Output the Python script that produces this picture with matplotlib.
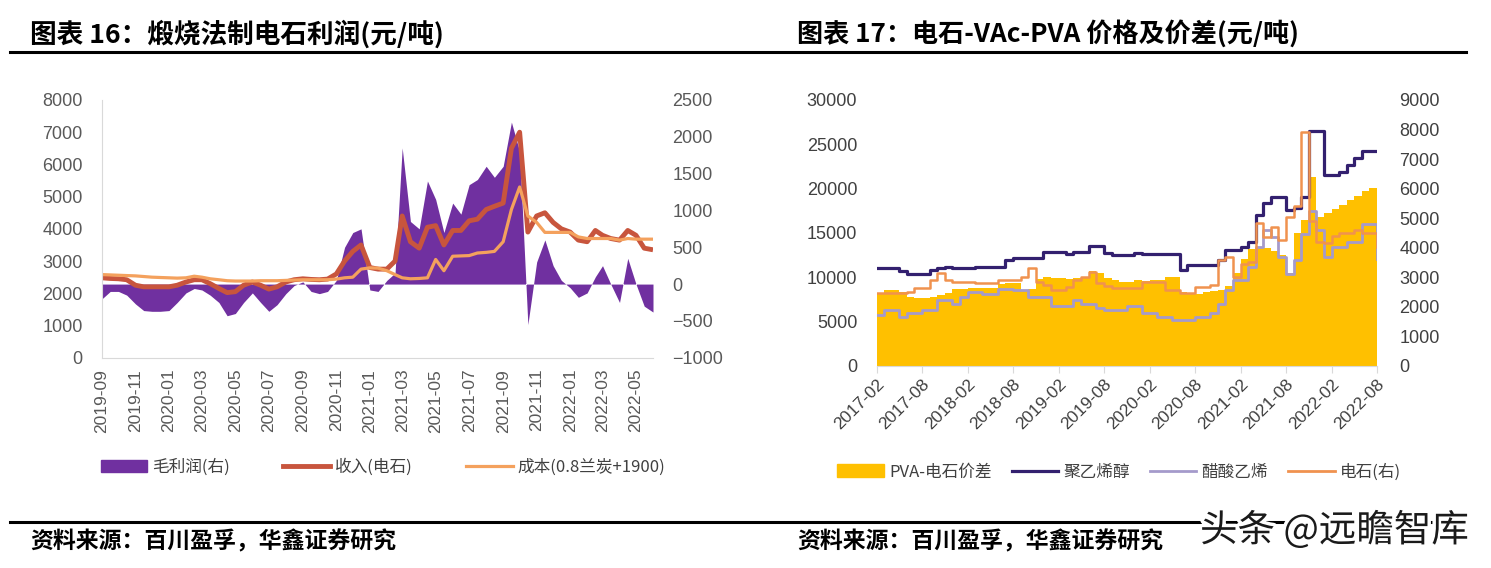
import matplotlib
matplotlib.use('agg')

import matplotlib.pyplot as plt
import matplotlib.dates as mdates
import matplotlib.patheffects as pe
from matplotlib.lines import Line2D
from matplotlib.patches import Patch
import pandas as pd

plt.rcParams['font.family'] = ['Liberation Sans', 'Noto Sans CJK SC', 'DejaVu Sans']
CJK = ['Noto Sans CJK SC', 'DejaVu Sans']

# ---- chart 16: calcination carbide profit, semi-monthly 2019-09 .. 2022-06
calc_months = pd.date_range('2019-09-01', '2022-06-01', freq='MS')
calc_dates = []
for m in calc_months:
    calc_dates.append(m)
    if m < calc_months[-1]:
        calc_dates.append(m + pd.Timedelta(days=15))

profit = [-200, -100, -100, -150, -270, -360, -370, -370, -360, -250,
          -120, -60, -80, -150, -250, -430, -400, -250, -120, -250,
          -370, -280, -130, -20, 30, -100, -130, -100, 50, 500,
          700, 750, -80, -100, 50, 150, 1850, 850, 750, 1400,
          1150, 700, 1100, 950, 1350, 1420, 1600, 1450, 1600, 2200,
          1800, -550, 300, 600, 250, 50, -50, -180, -120, 100,
          250, 0, -250, 350, 0, -300, -380]

income = [2480, 2460, 2450, 2420, 2250, 2200, 2200, 2200, 2200, 2250,
          2350, 2420, 2420, 2300, 2150, 2020, 2050, 2250, 2350, 2250,
          2130, 2200, 2350, 2420, 2450, 2430, 2420, 2440, 2600, 3000,
          3300, 3500, 2800, 2750, 2750, 3000, 4400, 3600, 3400, 4050,
          4100, 3500, 3950, 3950, 4250, 4300, 4600, 4700, 4800, 6500,
          7000, 3900, 4400, 4500, 4200, 4000, 3900, 3650, 3600, 3950,
          3800, 3700, 3650, 3950, 3800, 3400, 3350]

cost = [2580, 2570, 2560, 2550, 2540, 2520, 2500, 2490, 2480, 2470,
        2480, 2530, 2500, 2450, 2420, 2390, 2380, 2380, 2380, 2390,
        2390, 2390, 2400, 2410, 2420, 2420, 2420, 2420, 2440, 2480,
        2500, 2750, 2790, 2780, 2700, 2580, 2480, 2450, 2460, 2480,
        3050, 2700, 3150, 3160, 3170, 3250, 3270, 3300, 3600, 4600,
        5300, 4400, 4200, 3890, 3890, 3890, 3890, 3750, 3700, 3700,
        3700, 3700, 3650, 3700, 3680, 3680, 3680]

# ---- chart 17: carbide - VAc - PVA, monthly 2017-02 .. 2022-08
chain_dates = pd.date_range('2017-02-01', '2022-08-01', freq='MS')

spread = [8200, 8500, 8500, 8300, 7800, 7700, 7700, 7800, 8000, 8200,
          8700, 8700, 8800, 8800, 8800, 8800, 9200, 9300, 9300, 8600,
          8700, 9800, 10000, 9900, 9900, 9800, 9900, 9900, 10700, 10500,
          9900, 9700, 9500, 9500, 9700, 9600, 9700, 9700, 10000, 10000,
          8300, 8200, 8100, 8300, 8400, 8500, 9000, 10500, 12000, 13200,
          13300, 13300, 13000, 12500, 10500, 15000, 16500, 21300, 16800, 17200,
          17700, 18200, 18700, 19200, 19700, 20100, 20300]

pva = [11000, 11000, 11000, 10700, 10400, 10400, 10400, 10800, 11000, 11200,
       11000, 11000, 11000, 11200, 11200, 11200, 11200, 11950, 12130, 12130,
       12130, 12130, 12880, 12880, 12880, 12600, 12880, 12880, 13500, 13500,
       12700, 12500, 12500, 12500, 12750, 12600, 12600, 12600, 12600, 12600,
       10800, 11370, 11370, 11370, 11370, 11950, 13060, 13060, 13440, 14000,
       17000, 18330, 19080, 19080, 17580, 17770, 19080, 26530, 26530, 21520,
       21520, 21900, 22650, 23400, 24230, 24230, 24230]

vac = [5700, 6300, 6300, 5500, 5900, 5900, 6300, 6300, 7400, 7400,
       7000, 7800, 8350, 8350, 8150, 8150, 8700, 8700, 8550, 8550,
       7800, 7800, 7800, 6700, 6700, 6700, 7400, 7000, 7000, 6500,
       6300, 6300, 6300, 6700, 6700, 5900, 5900, 5500, 5500, 5150,
       5150, 5150, 5500, 5500, 5900, 7000, 8550, 9700, 9700, 11200,
       13400, 15300, 14500, 12300, 10400, 11900, 14900, 17500, 15300, 12300,
       13400, 13400, 14000, 14000, 16000, 16000, 12000]

carbide = [2450, 2450, 2450, 2450, 2500, 2620, 2620, 2900, 3130, 2900,
           2850, 2850, 2850, 2800, 2790, 2790, 2900, 2900, 2900, 3000,
           3300, 2850, 2730, 2560, 2560, 2650, 2900, 3000, 3190, 2790,
           2700, 2620, 2620, 2620, 2620, 2840, 2840, 2840, 2560, 2560,
           2450, 2450, 2680, 2680, 2730, 3580, 3690, 3010, 3460, 3520,
           4820, 4370, 4710, 4260, 5050, 5400, 7900, 4900, 4200, 4150,
           4400, 4500, 4500, 4600, 4500, 4500, 4030]

W, H = 1491, 568
fig = plt.figure(figsize=(W / 100, H / 100), dpi=100)
tick_color = '#595959'
axis_gray = '#D9D9D9'

def fx(px):
    return px / W

def fy(py):
    return 1 - py / H

# ---------------- chart 16 ----------------
ax = fig.add_axes([fx(102), fy(357.7), fx(653 - 102), (357.7 - 100) / H])
ax2 = ax.twinx()
ax.set_zorder(ax2.get_zorder() + 1)
ax.patch.set_visible(False)

ax2.fill_between(calc_dates, 0, profit, color='#7030A0', lw=0)
ax.plot(calc_dates, income, color='#C8553D', lw=3.5, solid_capstyle='butt')
ax.plot(calc_dates, cost, color='#F4A15D', lw=2.3)

ax.set_ylim(0, 8000)
ax.set_yticks(range(0, 8001, 1000))
ax2.set_ylim(-1000, 2500)
ax2.set_yticks(range(-1000, 2501, 500))
ax.set_xlim(calc_dates[0], calc_dates[-1])
ax.xaxis.set_major_locator(mdates.MonthLocator(bymonth=[1, 3, 5, 7, 9, 11]))
ax.xaxis.set_major_formatter(mdates.DateFormatter('%Y-%m'))
ax.tick_params(axis='x', length=0, pad=8, labelsize=12.5, labelcolor=tick_color, rotation=90)
ax.tick_params(axis='y', length=0, pad=14, labelsize=13, labelcolor=tick_color)
ax2.tick_params(axis='y', length=0, pad=14, labelsize=13, labelcolor=tick_color)
for a in (ax, ax2):
    for s in ('top', 'right'):
        a.spines[s].set_visible(False)
    a.spines['left'].set_visible(False)
ax.spines['left'].set_visible(True)
ax.spines['left'].set_color(axis_gray)
ax.spines['bottom'].set_color(axis_gray)
ax2.spines['bottom'].set_visible(False)

h16 = [Patch(color='#7030A0'),
       Line2D([], [], color='#C8553D', lw=3.5),
       Line2D([], [], color='#F4A15D', lw=2.3)]
fig.legend(h16, ['毛利润(右)', '收入(电石)', '成本(0.8兰炭+1900)'],
           loc='center', bbox_to_anchor=(fx(383), fy(467)), ncol=3, frameon=False,
           handlelength=2.8, handleheight=0.8, columnspacing=3.2, handletextpad=0.3,
           prop={'family': CJK, 'size': 12}, labelcolor='#404040')

# ---------------- chart 17 ----------------
bx = fig.add_axes([fx(876.7), fy(365.7), fx(1377 - 876.7), (365.7 - 100) / H])
bx2 = bx.twinx()

bx.fill_between(chain_dates, 0, spread, step='post', color='#FFC000', lw=0)
bx.plot(chain_dates, pva, drawstyle='steps-post', color='#33206F', lw=2.3)
bx.plot(chain_dates, vac, drawstyle='steps-post', color='#A59ACB', lw=2.0)
bx2.plot(chain_dates, carbide, drawstyle='steps-post', color='#F0924F', lw=1.8)

bx.set_ylim(0, 30000)
bx.set_yticks(range(0, 30001, 5000))
bx2.set_ylim(0, 9000)
bx2.set_yticks(range(0, 9001, 1000))
bx.set_xlim(chain_dates[0], chain_dates[-1])
bx.xaxis.set_major_locator(mdates.MonthLocator(bymonth=[2, 8]))
bx.xaxis.set_major_formatter(mdates.DateFormatter('%Y-%m'))
bx.tick_params(axis='x', length=5, color=axis_gray, pad=3, labelsize=12.5, labelcolor='#404040')
for lab in bx.get_xticklabels():
    lab.set_rotation(45)
    lab.set_ha('right')
    lab.set_rotation_mode('anchor')
bx.tick_params(axis='y', length=0, pad=14, labelsize=13, labelcolor='#404040')
bx2.tick_params(axis='y', length=0, pad=16, labelsize=13, labelcolor='#404040')
for a in (bx, bx2):
    for s in ('top', 'right', 'left'):
        a.spines[s].set_visible(False)
bx.spines['bottom'].set_color(axis_gray)
bx2.spines['bottom'].set_visible(False)

h17 = [Patch(color='#FFC000'),
       Line2D([], [], color='#33206F', lw=2.3),
       Line2D([], [], color='#A59ACB', lw=2.0),
       Line2D([], [], color='#F0924F', lw=2.0)]
fig.legend(h17, ['PVA-电石价差', '聚乙烯醇', '醋酸乙烯', '电石(右)'],
           loc='center', bbox_to_anchor=(fx(1119), fy(472)), ncol=4, frameon=False,
           handlelength=2.8, handleheight=0.8, columnspacing=1.2, handletextpad=0.3,
           prop={'family': CJK, 'size': 12}, labelcolor='#404040')

# ---------------- titles, rules, sources ----------------
fig.text(fx(30), fy(34), '图表 16：煅烧法制电石利润(元/吨)', family=CJK,
         fontsize=19.2, fontweight='bold', va='center', ha='left')
fig.text(fx(797), fy(34), '图表 17：电石-VAc-PVA 价格及价差(元/吨)', family=CJK,
         fontsize=18.8, fontweight='bold', va='center', ha='left')
fig.add_artist(Line2D([fx(10), fx(1466)], [fy(52), fy(52)], color='black', lw=2.2, zorder=1))
fig.add_artist(Line2D([fx(10), fx(1466)], [fy(522), fy(522)], color='black', lw=2.2, zorder=1))
fig.text(fx(30), fy(542), '资料来源：百川盈孚，华鑫证券研究', family=CJK,
         fontsize=16.5, fontweight='bold', va='center', ha='left')
fig.text(fx(797), fy(542), '资料来源：百川盈孚，华鑫证券研究', family=CJK,
         fontsize=16.5, fontweight='bold', va='center', ha='left')
fig.text(fx(1200), fy(531), '头条 @远瞻智库', family=CJK, fontsize=27,
         color='#1A1A1A', va='center', ha='left', zorder=10,
         path_effects=[pe.withStroke(linewidth=5, foreground='white')])

fig.savefig('out.png', dpi=100)
